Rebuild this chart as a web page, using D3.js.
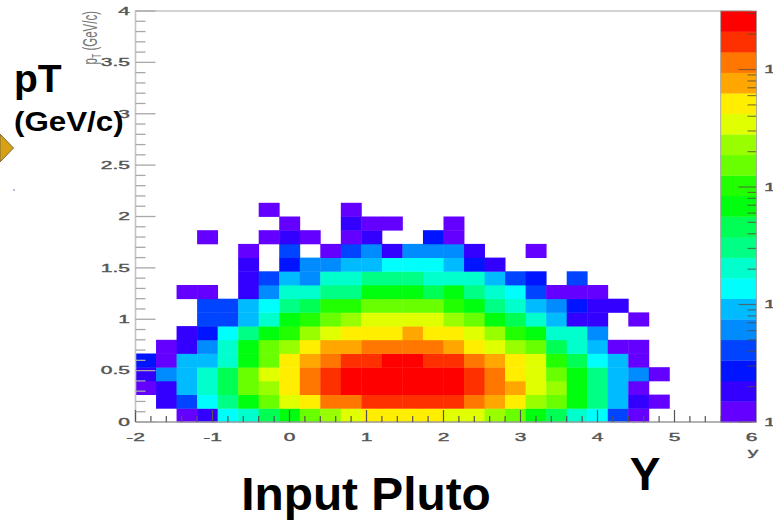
<!DOCTYPE html>
<html>
<head>
<meta charset="utf-8">
<script src="https://cdn.jsdelivr.net/npm/d3@7/dist/d3.min.js"></script>
<style>
  html, body { margin: 0; padding: 0; background: #fff; }
  svg { display: block; }
</style>
</head>
<body>
<script>
// Rapidity (y) vs transverse momentum (pT) histogram: 30 x 30 bins, log colour scale.
const rapidityRange = [-2, 6];
const ptRange = [0, 4];
const nBinsRapidity = 30;
const nBinsPt = 30;
const xTickValues = [-2, -1, 0, 1, 2, 3, 4, 5, 6];
const yTickValues = [0, 0.5, 1, 1.5, 2, 2.5, 3, 3.5, 4];
const zRange = [1, 3150];
const paletteLabels = [
  { value: 1, text: "1" },
  { value: 10, text: "10" },
  { value: 100, text: "10²" },
  { value: 1000, text: "10³" }
];

// Bin contents; row 0 is the lowest pT bin, each row runs over the 30 rapidity bins.
const counts = [
  [0,0,1,2,13,21,47,72,148,235,360,520,590,610,540,400,340,250,160,78,44,19,12,4,1,0,0,0,0,0],
  [0,2,4,14,31,66,150,340,560,1050,1300,1600,1750,1800,1720,1500,1180,760,480,230,140,70,30,9,2,1,0,0,0,0],
  [1,2,9,20,48,160,240,540,1200,1900,2400,2750,2900,2950,2800,2500,1850,1250,800,350,220,75,32,10,1,0,0,0,0,0],
  [2,6,10,22,45,170,360,600,1150,1950,2450,2800,3000,3050,2900,2600,1900,1300,580,390,170,80,34,10,7,1,0,0,0,0],
  [3,1,9,10,23,75,155,480,780,1150,1700,2000,2200,2250,2050,1800,1300,850,520,330,110,50,14,9,1,0,0,0,0,0],
  [0,1,2,6,19,70,150,230,520,700,900,1000,1150,1200,1080,880,600,360,240,140,48,20,9,1,1,0,0,0,0,0],
  [0,0,2,3,14,30,70,105,230,370,480,560,600,660,590,500,350,240,100,68,22,18,6,0,0,0,0,0,0,0],
  [0,0,0,4,4,9,22,60,95,145,200,300,330,350,310,250,160,75,40,21,8,2,2,0,1,0,0,0,0,0],
  [0,0,0,4,4,10,13,30,44,100,115,150,170,160,140,110,72,33,22,9,6,3,2,2,0,0,0,0,0,0],
  [0,0,1,1,0,2,7,18,23,28,35,62,70,66,50,58,30,19,13,4,1,1,1,0,0,0,0,0,0,0],
  [0,0,0,0,0,2,4,10,7,18,21,27,32,29,24,20,17,8,4,3,0,4,0,0,0,0,0,0,0,0],
  [0,0,0,0,0,2,0,3,6,7,9,10,13,14,12,8,3,2,0,0,0,0,0,0,0,0,0,0,0,0],
  [0,0,0,0,0,1,0,4,0,1,4,6,2,7,6,7,2,0,0,1,0,0,0,0,0,0,0,0,0,0],
  [0,0,0,1,0,0,1,2,1,0,1,2,0,0,3,1,0,0,0,0,0,0,0,0,0,0,0,0,0,0],
  [0,0,0,0,0,0,0,1,0,0,2,1,1,0,0,1,0,0,0,0,0,0,0,0,0,0,0,0,0,0],
  [0,0,0,0,0,0,1,0,0,0,1,0,0,0,0,0,0,0,0,0,0,0,0,0,0,0,0,0,0,0]
];

const W = 773, H = 521;
const frame = { left: 135.5, right: 751.5, top: 11, bottom: 422 };
const pal = { x0: 720.7, x1: 756.5 };
const nContours = 20;

// ROOT "pretty" palette: 50 hues from violet to red, sampled into 20 contour colours
const prettyPalette = d3.range(50).map(i => d3.hsl(280 - (i + 1) * 5.6, 1, 0.5).formatHex());
const contourColours = d3.range(nContours).map(k =>
  prettyPalette[Math.floor((k + 0.99) * prettyPalette.length / nContours)]);

const x = d3.scaleLinear().domain(rapidityRange).range([frame.left, frame.right]);
const y = d3.scaleLinear().domain(ptRange).range([frame.bottom, frame.top]);
const zLevel = d3.scaleLog().domain(zRange).range([0, nContours]);
const zAxis = d3.scaleLog().domain(zRange).range([frame.bottom, frame.top]);
const colourOf = v => contourColours[Math.max(0, Math.min(nContours - 1, Math.floor(zLevel(v))))];

const dx = (rapidityRange[1] - rapidityRange[0]) / nBinsRapidity;
const dy = (ptRange[1] - ptRange[0]) / nBinsPt;

const svg = d3.select("body").append("svg")
  .attr("width", W).attr("height", H)
  .attr("viewBox", `0 0 ${W} ${H}`);

svg.append("rect").attr("width", W).attr("height", H).attr("fill", "#fff");

// Cells
const cells = [];
counts.forEach((row, j) => row.forEach((v, i) => { if (v > 0) cells.push({ i, j, v }); }));

svg.append("g").selectAll("rect").data(cells).join("rect")
  .attr("x", d => x(rapidityRange[0] + d.i * dx))
  .attr("y", d => y(ptRange[0] + (d.j + 1) * dy))
  .attr("width", d => x(rapidityRange[0] + (d.i + 1) * dx) - x(rapidityRange[0] + d.i * dx) + 0.4)
  .attr("height", d => y(ptRange[0] + d.j * dy) - y(ptRange[0] + (d.j + 1) * dy) + 0.4)
  .attr("fill", d => colourOf(d.v));

// Frame
const axisGrey = "#9a9a9a";
svg.append("path")
  .attr("d", `M${frame.left},${frame.bottom}V${frame.top}H${frame.right}`)
  .attr("fill", "none").attr("stroke", "#c4c4c4").attr("stroke-width", 1.6);
svg.append("line")
  .attr("x1", frame.left).attr("x2", frame.right)
  .attr("y1", frame.bottom).attr("y2", frame.bottom)
  .attr("stroke", axisGrey).attr("stroke-width", 1.6);

// Wide tick-label text (labels are stretched horizontally)
function stretchedText(g, px, py, str, anchor, size, sx, fill) {
  return g.append("text")
    .attr("transform", `translate(${px},${py}) scale(${sx},1)`)
    .attr("text-anchor", anchor)
    .attr("font-family", "Liberation Sans, Arial, sans-serif")
    .attr("font-size", size)
    .attr("fill", fill)
    .attr("stroke", fill).attr("stroke-width", 0.35)
    .text(str);
}

// X axis: major ticks every 1, minor every 0.2, pointing up
const gx = svg.append("g");
const xMinor = d3.range(rapidityRange[0], rapidityRange[1] + 1e-9, 0.2);
gx.selectAll("line.minor").data(xMinor).join("line")
  .attr("x1", d => x(d)).attr("x2", d => x(d))
  .attr("y1", frame.bottom).attr("y2", d => Math.abs(d - Math.round(d)) < 1e-6 ? frame.bottom - 12 : frame.bottom - 6)
  .attr("stroke", "#555").attr("stroke-width", 1.2);
xTickValues.forEach(v => stretchedText(gx, x(v), 441, String(v), "middle", 10.5, 2.0, "#555"));
stretchedText(gx, 753, 456, "y", "middle", 10.5, 2.0, "#555");

// Y axis: major ticks every 0.5, minor every 0.1, pointing right
const gy = svg.append("g");
const yMinor = d3.range(0, 40.5, 1).map(k => k / 10);
gy.selectAll("line").data(yMinor).join("line")
  .attr("x1", frame.left).attr("x2", d => (Math.round(d * 10) % 5 === 0) ? frame.left + 20 : frame.left + 10)
  .attr("y1", d => y(d)).attr("y2", d => y(d))
  .attr("stroke", "#a8a8a8").attr("stroke-width", 1.3);
yTickValues.forEach(v => stretchedText(gy, 130, y(v) + 3.8, String(v), "end", 10.5, 2.0, "#555"));

// Y axis title (rotated, aligned to the top of the axis, thickened across its length)
const yTitle = svg.append("text")
  .attr("transform", `translate(97,11) rotate(-90) scale(1,1.8)`)
  .attr("text-anchor", "end")
  .attr("font-family", "Liberation Sans, Arial, sans-serif")
  .attr("font-size", 11.5).attr("fill", "#777");
yTitle.append("tspan").text("p");
yTitle.append("tspan").attr("font-size", 7).attr("dy", 2).text("T");
yTitle.append("tspan").attr("dy", -2).text(" (GeV/c)");

// Colour palette
const gp = svg.append("g");
gp.selectAll("rect").data(contourColours).join("rect")
  .attr("x", pal.x0).attr("width", pal.x1 - pal.x0)
  .attr("y", (c, k) => zAxis(zLevel.invert(k + 1)))
  .attr("height", (c, k) => zAxis(zLevel.invert(k)) - zAxis(zLevel.invert(k + 1)) + 0.3)
  .attr("fill", c => c);
const zTicks = [];
[1, 10, 100, 1000].forEach(dec => d3.range(1, 10).forEach(m => {
  const v = dec * m;
  if (v <= zRange[1]) zTicks.push({ v, major: m === 1 });
}));
gp.selectAll("line").data(zTicks).join("line")
  .attr("x1", pal.x1).attr("x2", d => d.major ? pal.x1 - 18 : pal.x1 - 9)
  .attr("y1", d => zAxis(d.v)).attr("y2", d => zAxis(d.v))
  .attr("stroke", "#5a4a3a").attr("stroke-opacity", 0.7).attr("stroke-width", 1.2);
gp.append("rect").attr("x", pal.x0).attr("y", frame.top)
  .attr("width", pal.x1 - pal.x0).attr("height", frame.bottom - frame.top)
  .attr("fill", "none").attr("stroke", "#999").attr("stroke-width", 0.8);
paletteLabels.forEach(p => stretchedText(gp, 764, zAxis(p.value) + 3.8, p.text, "start", 10.5, 2.0, "#555"));

// Annotation labels
const bold = (px, py, str, size, anchor, sx) => svg.append("text")
  .attr("transform", `translate(${px},${py}) scale(${sx || 1},1)`)
  .attr("text-anchor", anchor || "start")
  .attr("font-family", "Liberation Sans, Arial, sans-serif")
  .attr("font-weight", "bold").attr("font-size", size).attr("fill", "#000")
  .text(str);
bold(14, 92, "pT", 39);
bold(14, 131, "(GeV/c)", 27, "start", 1.16);
bold(366, 510, "Input Pluto", 46, "middle", 1.04);
bold(645, 490, "Y", 46, "middle");

// Arrow tip at the left edge
svg.append("path")
  .attr("d", "M0,134L13.5,148L0,162Z")
  .attr("fill", "#d8a015").attr("stroke", "#7d6a3a").attr("stroke-width", 1);
svg.append("circle").attr("cx", 14).attr("cy", 190).attr("r", 0.8).attr("fill", "#4a6fa5");
</script>
</body>
</html>
